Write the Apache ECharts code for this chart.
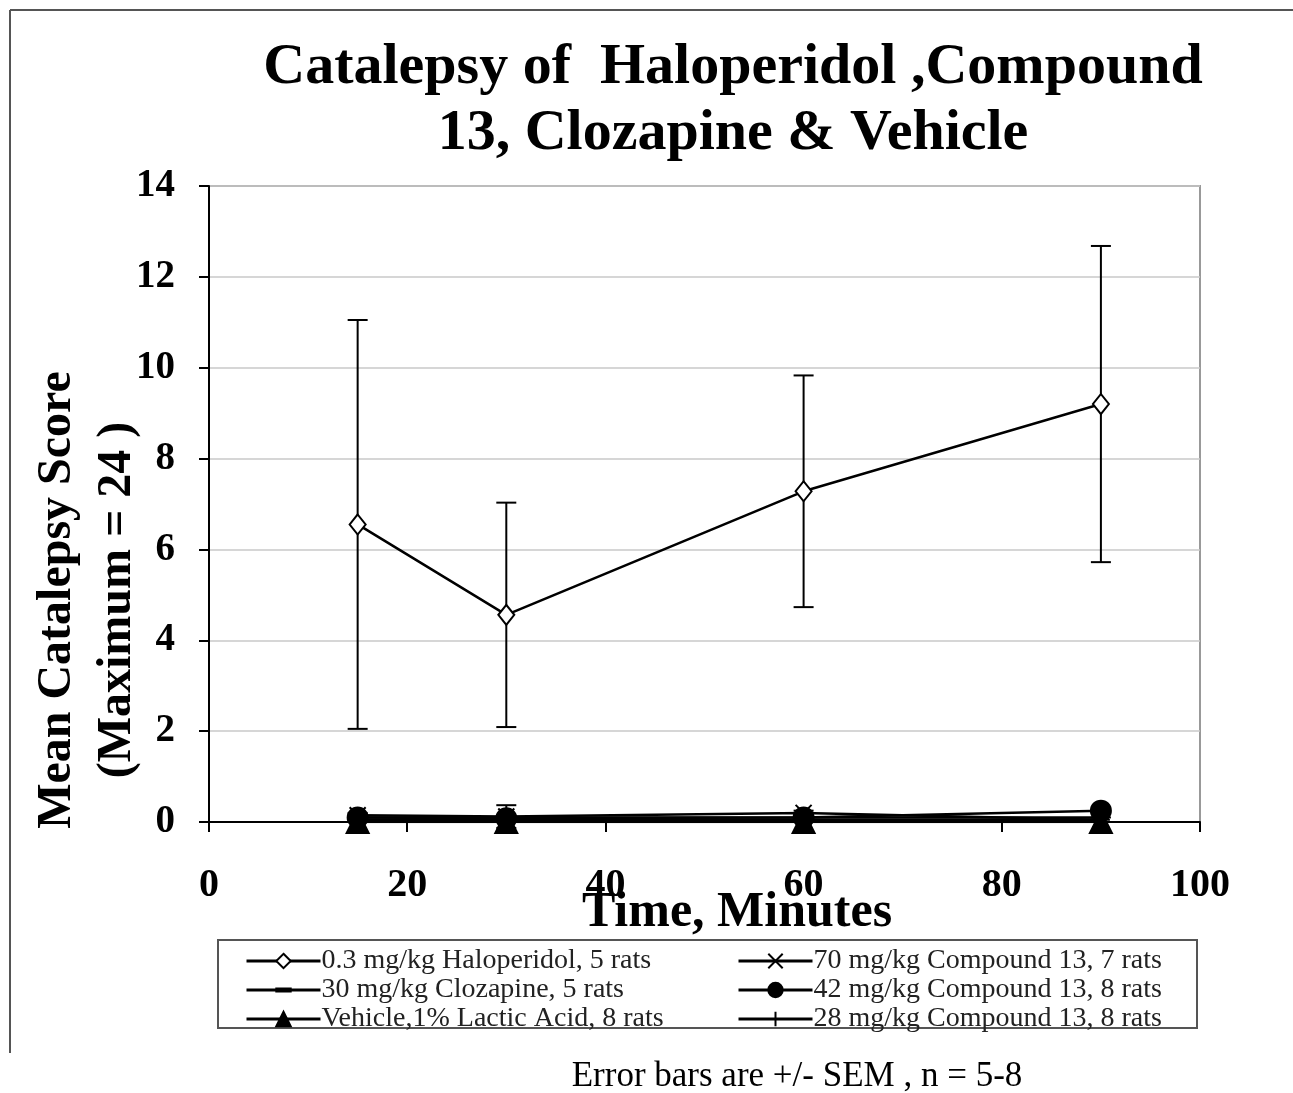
<!DOCTYPE html>
<html>
<head>
<meta charset="utf-8">
<script src="https://cdn.jsdelivr.net/npm/echarts@6/dist/echarts.min.js"></script>
<style>
  html, body { margin: 0; padding: 0; background: #fff; }
  #main { width: 1293px; height: 1093px; }
</style>
</head>
<body>
<div id="main"></div>
<script>
var times = [15, 30, 60, 90];

var haloMean = [6.55, 4.56, 7.28, 9.2];
var haloSem = [4.5, 2.47, 2.55, 3.48];

var c70Mean = [0.15, 0.12, 0.2, 0.05];
var c70Sem = [0.05, 0.25, 0.05, 0.05];

var clozMean = [0.1, 0.1, 0.1, 0.1];
var c42Mean = [0.1, 0.08, 0.1, 0.25];
var vehMean = [0, 0, 0, 0];
var c28Mean = [0.05, 0.05, 0.05, 0.05];

var font = 'Liberation Serif, Times New Roman, serif';

var xPath = 'path://M0,0L10,10M10,0L0,10';
var plusPath = 'path://M5,0L5,10M0,5L10,5';
// square bounding box (moveTo corners) so the dash keeps its shape in the legend
var dashPath = 'path://M0,0M14,14M0,5.5L14,5.5L14,8.5L0,8.5Z';

function pairs(ys) {
    var out = [];
    for (var i = 0; i < times.length; ++i) {
        out.push([times[i], ys[i]]);
    }
    return out;
}

function errData(ys, sem) {
    var out = [];
    for (var i = 0; i < times.length; ++i) {
        out.push([times[i], ys[i] - sem[i], ys[i] + sem[i]]);
    }
    return out;
}

function renderErr(params, api) {
    var lo = api.coord([api.value(0), api.value(1)]);
    var hi = api.coord([api.value(0), api.value(2)]);
    var w = 10;
    var st = { stroke: '#000', lineWidth: 2 };
    return {
        type: 'group',
        children: [
            { type: 'line', shape: { x1: lo[0], y1: lo[1], x2: hi[0], y2: hi[1] }, style: st },
            { type: 'line', shape: { x1: hi[0] - w, y1: hi[1], x2: hi[0] + w, y2: hi[1] }, style: st },
            { type: 'line', shape: { x1: lo[0] - w, y1: lo[1], x2: lo[0] + w, y2: lo[1] }, style: st }
        ]
    };
}

function lineSeries(name, ys, symbol, size, fill) {
    return {
        name: name,
        type: 'line',
        data: pairs(ys),
        symbol: symbol,
        symbolSize: size,
        symbolKeepAspect: true,
        showAllSymbol: true,
        lineStyle: { color: '#000', width: 2.5 },
        itemStyle: { color: fill, borderColor: '#000', borderWidth: 2 },
        z: 3
    };
}

var legendText = { fontFamily: font, fontSize: 28, color: '#222', lineHeight: 24, padding: [0, 0, 0, -4] };

var myChart = echarts.init(document.getElementById('main'));

var option = {
    backgroundColor: '#fff',
    animation: false,
    title: {
        text: 'Catalepsy of  Haloperidol ,Compound\n13, Clozapine & Vehicle',
        left: 728,
        top: 30,
        textAlign: 'center',
        textStyle: {
            fontFamily: font,
            fontWeight: 'bold',
            fontSize: 58,
            lineHeight: 66,
            color: '#000'
        }
    },
    grid: {
        left: 209,
        right: 93,
        top: 186,
        bottom: 271,
        show: true,
        borderColor: '#999',
        borderWidth: 2
    },
    xAxis: {
        type: 'value',
        min: 0,
        max: 100,
        interval: 20,
        axisLine: { lineStyle: { color: '#000', width: 2 } },
        axisTick: { show: true, inside: false, length: 10, lineStyle: { color: '#000', width: 2 } },
        splitLine: { show: false },
        axisLabel: {
            fontFamily: font,
            fontWeight: 'bold',
            fontSize: 40,
            color: '#000',
            margin: 44
        }
    },
    yAxis: {
        type: 'value',
        min: 0,
        max: 14,
        interval: 2,
        axisLine: { show: true, lineStyle: { color: '#000', width: 2 } },
        axisTick: { show: true, inside: false, length: 10, lineStyle: { color: '#000', width: 2 } },
        splitLine: { show: true, lineStyle: { color: '#c8c8c8', width: 1.5 } },
        axisLabel: {
            fontFamily: font,
            fontWeight: 'bold',
            fontSize: 39,
            color: '#000',
            margin: 34
        }
    },
    legend: [{
        orient: 'vertical',
        left: 240,
        top: 942,
        itemWidth: 74,
        itemHeight: 18,
        itemGap: 1,
        lineStyle: { width: 3 },
        data: ['0.3 mg/kg Haloperidol, 5 rats', '30 mg/kg Clozapine, 5 rats', 'Vehicle,1% Lactic Acid, 8 rats'],
        textStyle: legendText
    }, {
        orient: 'vertical',
        left: 732,
        top: 942,
        itemWidth: 74,
        itemHeight: 18,
        itemGap: 1,
        lineStyle: { width: 3 },
        data: ['70 mg/kg Compound 13, 7 rats', '42 mg/kg Compound 13, 8 rats', '28 mg/kg Compound 13, 8 rats'],
        textStyle: legendText
    }],
    graphic: [
        { type: 'line', shape: { x1: 10, y1: 10, x2: 1293, y2: 10 }, style: { stroke: '#555', lineWidth: 2 } },
        { type: 'line', shape: { x1: 10, y1: 10, x2: 10, y2: 1053 }, style: { stroke: '#555', lineWidth: 2 } },
        { type: 'rect', shape: { x: 218, y: 940, width: 979, height: 88 }, style: { fill: 'none', stroke: '#555', lineWidth: 2 } },
        {
            type: 'text', x: 88, y: 600, rotation: Math.PI / 2,
            style: {
                text: 'Mean Catalepsy Score\n(Maximum = 24 )',
                fontFamily: font, fontWeight: 'bold', fontSize: 48, lineHeight: 60,
                fill: '#000', align: 'center', verticalAlign: 'middle'
            }
        },
        {
            type: 'text', x: 737, y: 913,
            style: {
                text: 'Time, Minutes',
                fontFamily: font, fontWeight: 'bold', fontSize: 50,
                fill: '#000', align: 'center', verticalAlign: 'middle'
            }
        },
        {
            type: 'text', x: 797, y: 1077,
            style: {
                text: 'Error bars are +/- SEM , n = 5-8',
                fontFamily: font, fontSize: 35,
                fill: '#000', align: 'center', verticalAlign: 'middle'
            }
        }
    ],
    series: [
        lineSeries('0.3 mg/kg Haloperidol, 5 rats', haloMean, 'diamond', [16, 20], '#fff'),
        lineSeries('70 mg/kg Compound 13, 7 rats', c70Mean, xPath, 16, '#000'),
        lineSeries('30 mg/kg Clozapine, 5 rats', clozMean, dashPath, 14, '#000'),
        lineSeries('42 mg/kg Compound 13, 8 rats', c42Mean, 'circle', 20, '#000'),
        lineSeries('Vehicle,1% Lactic Acid, 8 rats', vehMean, 'triangle', 22, '#000'),
        lineSeries('28 mg/kg Compound 13, 8 rats', c28Mean, plusPath, 18, '#000'),
        { type: 'custom', renderItem: renderErr, data: errData(haloMean, haloSem), z: 2 },
        { type: 'custom', renderItem: renderErr, data: errData(c70Mean, c70Sem), z: 2 }
    ]
};

myChart.setOption(option);
</script>
</body>
</html>
